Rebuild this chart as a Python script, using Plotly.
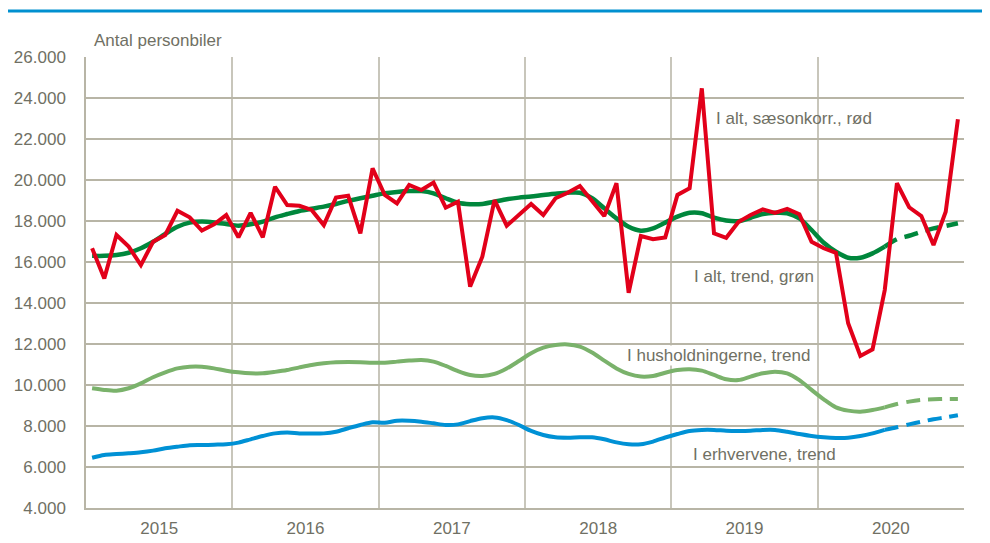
import plotly.graph_objects as go

# monthly observations Jan 2015 - Dec 2020
years = ['2015', '2016', '2017', '2018', '2019', '2020']

i_alt_saeson = [16670, 15200, 17320, 16750, 15850, 16990, 17320, 18500, 18180, 17530, 17840, 18290,
                17200, 18400, 17200, 19670, 18780, 18740, 18540, 17800, 19140, 19230, 17400, 20570,
                19270, 18860, 19760, 19510, 19870, 18650, 18940, 14800, 16260, 19020, 17770, 18300,
                18830, 18290, 19110, 19380, 19710, 18980, 18240, 19840, 14500, 17270, 17110, 17200,
                19270, 19600, 24470, 17400, 17180, 17950, 18290, 18570, 18400, 18590, 18330, 16990,
                16670, 16450, 13010, 11420, 11740, 14630, 19840, 18670, 18240, 16830, 18450, 22960]

i_alt_trend = [16300, 16300, 16340, 16450, 16670, 16990, 17370, 17720, 17920, 17970, 17930, 17850,
               17770, 17840, 17970, 18180, 18340, 18490, 18600, 18700, 18830, 18980, 19110, 19230,
               19350, 19420, 19460, 19460, 19350, 19110, 18890, 18820, 18830, 18940, 19060, 19140,
               19190, 19270, 19330, 19380, 19380, 19110, 18620, 18130, 17720, 17530, 17640, 17920,
               18210, 18400, 18380, 18160, 18020, 17990, 18160, 18340, 18400, 18380, 18130, 17560,
               16940, 16500, 16210, 16210, 16420, 16750, 17110, 17280, 17480, 17640, 17760, 17890]

husholdninger = [9840, 9760, 9720, 9840, 10080, 10380, 10620, 10810, 10890, 10890, 10810, 10700,
                 10620, 10570, 10570, 10640, 10730, 10860, 10980, 11060, 11110, 11120, 11110, 11090,
                 11090, 11140, 11190, 11220, 11140, 10930, 10680, 10490, 10440, 10540, 10810, 11170,
                 11550, 11820, 11950, 11980, 11870, 11580, 11190, 10810, 10540, 10410, 10440, 10600,
                 10730, 10770, 10700, 10490, 10280, 10240, 10410, 10570, 10650, 10570, 10240, 9760,
                 9300, 8910, 8750, 8700, 8780, 8910, 9070, 9190, 9270, 9300, 9320, 9320]

erhverv = [6450, 6590, 6630, 6670, 6720, 6800, 6910, 6990, 7060, 7070, 7090, 7110,
           7190, 7350, 7510, 7640, 7680, 7640, 7630, 7640, 7720, 7890, 8050, 8180,
           8160, 8260, 8260, 8210, 8130, 8050, 8080, 8240, 8380, 8420, 8290, 8050,
           7760, 7560, 7450, 7430, 7450, 7450, 7350, 7200, 7110, 7110, 7240, 7440,
           7610, 7760, 7810, 7810, 7770, 7760, 7770, 7810, 7810, 7720, 7610, 7510,
           7450, 7420, 7430, 7510, 7640, 7810, 7940, 8080, 8210, 8330, 8420, 8520]

LAST_ACTUAL = 65  # trend is projected (dashed) after this month

RED = '#e2001a'
DGREEN = '#00873c'
LGREEN = '#7ab26b'
BLUE = '#0091d5'
GREY = '#707064'
GRID = '#b8b5a6'
FONT = 'Liberation Sans, Arial, sans-serif'
FS = 17

months = list(range(len(i_alt_saeson)))
solid = months[:LAST_ACTUAL + 1]
dashed = months[LAST_ACTUAL:]

fig = go.Figure()

for series, color, w in [(erhverv, BLUE, 4), (husholdninger, LGREEN, 4), (i_alt_trend, DGREEN, 4.5)]:
    fig.add_trace(go.Scatter(x=solid, y=series[:LAST_ACTUAL + 1], mode='lines',
                             line=dict(color=color, width=w, shape='spline', smoothing=0.8)))
    fig.add_trace(go.Scatter(x=dashed, y=series[LAST_ACTUAL:], mode='lines',
                             line=dict(color=color, width=w, shape='spline', smoothing=0.8, dash='14px,8px')))

fig.add_trace(go.Scatter(x=months, y=i_alt_saeson, mode='lines', line=dict(color=RED, width=4)))

labels = [
    ('I alt, sæsonkorr., rød', 51.1, 23020, None),
    ('I alt, trend, grøn', 49.3, 15270, None),
    ('I husholdningerne, trend', 43.8, 11460, 'white'),
    ('I erhvervene, trend', 49.2, 6590, None),
]
for text, x, y, bg in labels:
    fig.add_annotation(x=x, y=y, text=text, showarrow=False, xanchor='left', yanchor='middle',
                       font=dict(family=FONT, size=FS, color=GREY), bgcolor=bg, borderpad=0)

fig.add_annotation(x=0.007, y=1.01, xref='paper', yref='paper', text='Antal personbiler', showarrow=False,
                   xanchor='left', yanchor='bottom', font=dict(family=FONT, size=FS, color=GREY))

# blue rule under the (cropped) heading
fig.add_shape(type='line', xref='paper', yref='paper', x0=-0.091, x1=1.05, y0=1.102, y1=1.102,
              line=dict(color='#0090d0', width=3))

fig.update_layout(
    width=990, height=543,
    margin=dict(l=78, r=34, t=49, b=43),
    plot_bgcolor='white', paper_bgcolor='white',
    showlegend=False,
    separators=',.',
    font=dict(family=FONT, size=FS, color=GREY),
    xaxis=dict(range=[-0.5, len(months) - 0.5], automargin=False,
               tickvals=[12 * i + 5.5 for i in range(len(years))], ticktext=years,
               showgrid=False, zeroline=False, ticks='', ticklabelstandoff=4,
               showline=True, linecolor=GRID, linewidth=1.5,
               minor=dict(tickvals=[12 * i - 0.5 for i in range(1, len(years) + 1)],
                          showgrid=True, gridcolor='#c8c6bb', gridwidth=2, ticks=''),
               tickfont=dict(family=FONT, size=FS, color=GREY)),
    yaxis=dict(range=[4000, 26000], dtick=2000, tickformat=',.0f', automargin=False,
               showgrid=True, gridcolor=GRID, gridwidth=1.5, zeroline=False,
               showline=True, linecolor=GRID, linewidth=1.5,
               ticks='outside', ticklen=0, ticklabelstandoff=15,
               tickfont=dict(family=FONT, size=FS, color=GREY)),
)

fig.write_html('out.html')
